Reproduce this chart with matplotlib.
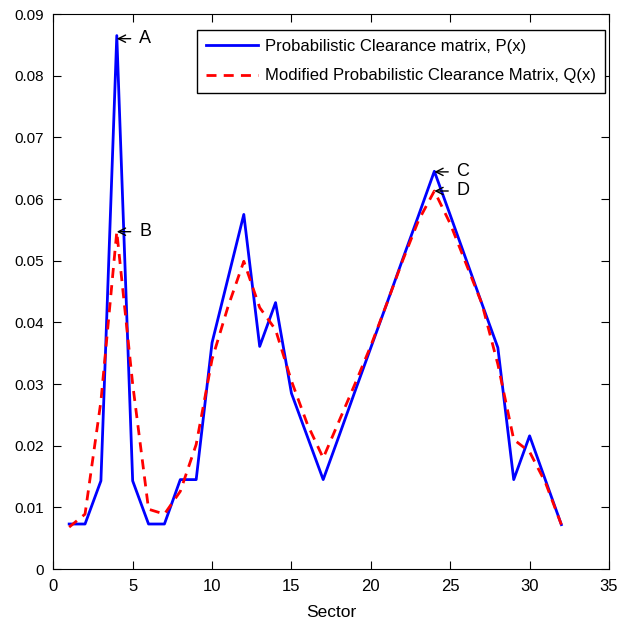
import numpy as np
import matplotlib
matplotlib.use('Agg')
import matplotlib.pyplot as plt

plt.rcParams['font.family'] = ['Liberation Sans', 'DejaVu Sans']

# Data
sector = np.arange(1, 33)
p_x = [0.0073, 0.0073, 0.0143, 0.0865, 0.0143, 0.0073, 0.0073, 0.0145,
       0.0145, 0.0367, 0.0471, 0.0575, 0.0361, 0.0432, 0.0285, 0.0215,
       0.0145, 0.0216, 0.0288, 0.0359, 0.0430, 0.0502, 0.0573, 0.0645,
       0.0574, 0.0502, 0.0430, 0.0359, 0.0145, 0.0216, 0.0144, 0.0072]
q_x = [0.0068, 0.0089, 0.0272, 0.0547, 0.0300, 0.0097, 0.0089, 0.0126,
       0.0202, 0.0340, 0.0425, 0.0499, 0.0424, 0.0388, 0.0305, 0.0235,
       0.0180, 0.0240, 0.0300, 0.0362, 0.0430, 0.0500, 0.0565, 0.0613,
       0.0560, 0.0495, 0.0430, 0.0332, 0.0210, 0.0190, 0.0140, 0.0072]

labels = ['A', 'B', 'C', 'D']
label_pts = [(4, 0.0860), (4, 0.0547), (24, 0.0644), (24, 0.0613)]

xticks = [0, 5, 10, 15, 20, 25, 30, 35]
yticks = [0, 0.01, 0.02, 0.03, 0.04, 0.05, 0.06, 0.07, 0.08, 0.09]
ytick_labels = ['0', '0.01', '0.02', '0.03', '0.04', '0.05', '0.06', '0.07', '0.08', '0.09']

fig = plt.figure(figsize=(6.32, 6.28), dpi=100)
ax = fig.add_axes([0.0843, 0.0939, 0.8793, 0.8838])

ax.plot(sector, p_x, color='#0000ff', lw=2, label='Probabilistic Clearance matrix, P(x)')
ax.plot(sector, q_x, color='#ff0000', lw=2, dashes=(3.6, 2.6),
        label='Modified Probabilistic Clearance Matrix, Q(x)')

for lab, (px, py) in zip(labels, label_pts):
    ax.annotate(lab, xy=(px, py), xytext=(16, 0), textcoords='offset points',
                ha='left', va='center', fontsize=13,
                arrowprops=dict(arrowstyle='->', color='black', lw=1,
                                shrinkA=4, shrinkB=0))

ax.set_xlim(0, 35)
ax.set_ylim(0, 0.09)
ax.set_xticks(xticks)
ax.set_yticks(yticks)
ax.set_yticklabels(ytick_labels)
ax.tick_params(direction='in', top=True, right=True, length=5.5)
ax.tick_params(axis='x', labelsize=12, pad=7)
ax.tick_params(axis='y', labelsize=11, pad=6.5)
ax.set_xlabel('Sector', fontsize=12.5, labelpad=8)

ax.legend(loc='upper right', bbox_to_anchor=(0.957, 0.952), bbox_transform=fig.transFigure,
          borderaxespad=0, fancybox=False, edgecolor='black', framealpha=1,
          fontsize=12, handlelength=3.1, handletextpad=0.4,
          labelspacing=0.85, borderpad=0.55)

fig.savefig('out.png', dpi=100)
